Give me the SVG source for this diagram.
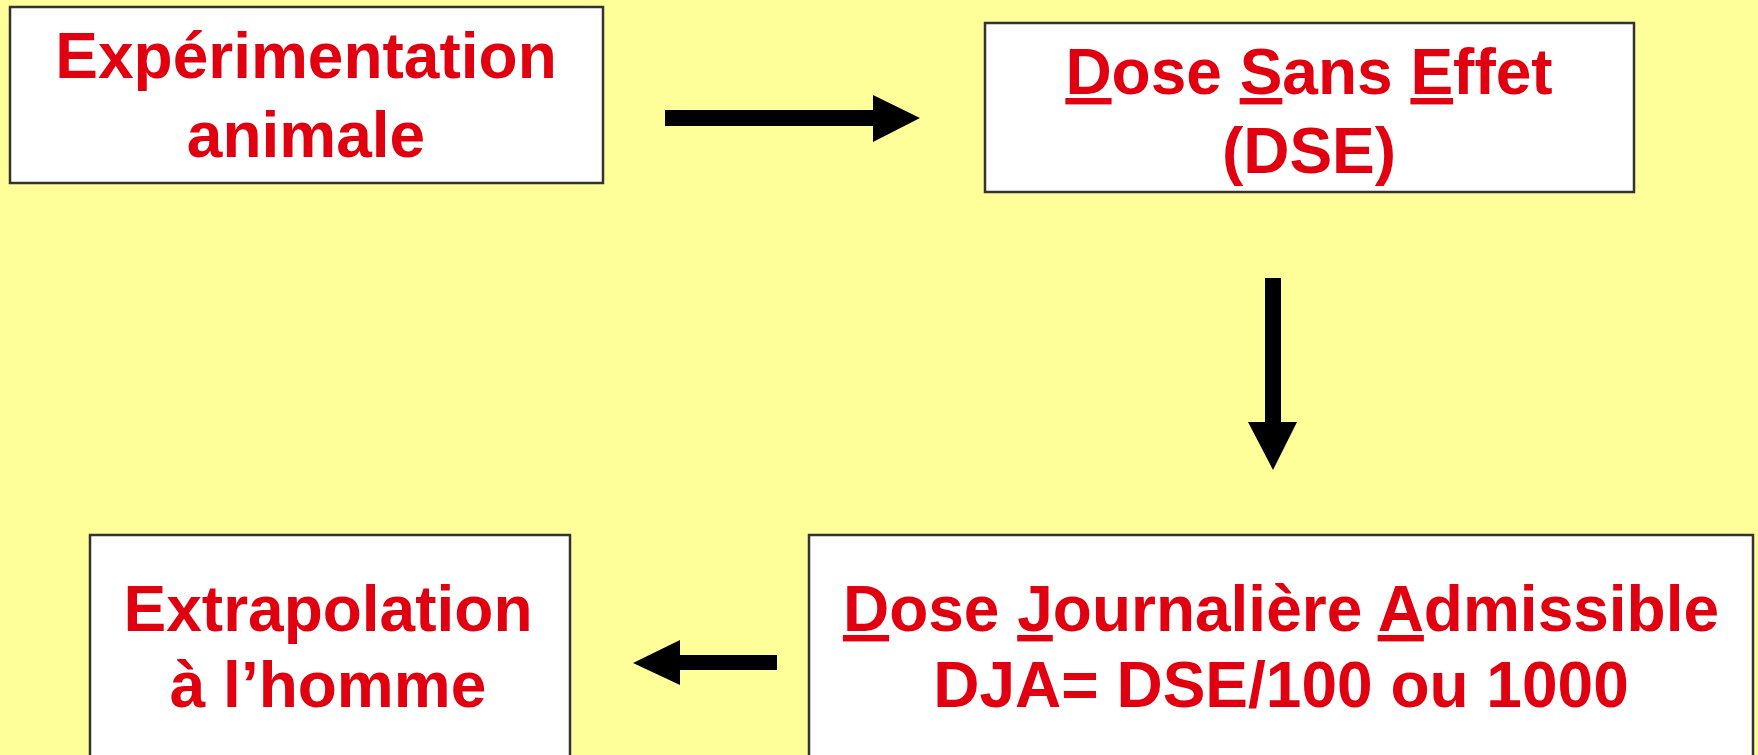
<svg xmlns="http://www.w3.org/2000/svg" width="1758" height="755" viewBox="0 0 1758 755">
<style>
.box{fill:#ffffff;stroke:#333333;stroke-width:2.5}
.t{font-family:"Liberation Sans",Arial,sans-serif;font-weight:bold;font-size:64px;fill:#e0000f;text-anchor:middle}
.u{text-decoration:underline}
.arr{fill:#000000;stroke:none}
</style>
<rect width="1758" height="755" fill="#ffff99"/>
<g id="node-experimentation">
<rect class="box" x="10" y="7" width="593" height="176"/>
<text class="t" x="306" y="78">Expérimentation</text>
<text class="t" x="306" y="157">animale</text>
</g>
<g id="node-dse">
<rect class="box" x="985" y="23" width="649" height="169"/>
<text class="t" x="1309" y="94"><tspan class="u">D</tspan>ose <tspan class="u">S</tspan>ans <tspan class="u">E</tspan>ffet</text>
<text class="t" x="1309" y="173">(DSE)</text>
</g>
<g id="node-dja">
<rect class="box" x="809" y="535" width="944" height="230"/>
<text class="t" x="1281" y="631"><tspan class="u">D</tspan>ose <tspan class="u">J</tspan>ournalière <tspan class="u">A</tspan>dmissible</text>
<text class="t" x="1281" y="707">DJA= DSE/100 ou 1000</text>
</g>
<g id="node-extrapolation">
<rect class="box" x="90" y="535" width="480" height="230"/>
<text class="t" x="328" y="631">Extrapolation</text>
<text class="t" x="328" y="707">à l’homme</text>
</g>
<g id="connectors">
<path class="arr" d="M665,110 H873 V95 L920,118 L873,142 V126 H665 Z"/>
<path class="arr" d="M1265,278 H1281 V422 H1297 L1273,470 L1248,422 H1265 Z"/>
<path class="arr" d="M777,655 H680 V640 L633,663 L680,685 V670 H777 Z"/>
</g>
</svg>
